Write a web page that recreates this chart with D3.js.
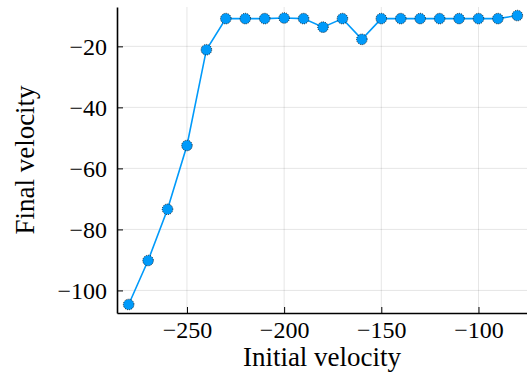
<!DOCTYPE html>
<html>
<head>
<meta charset="utf-8">
<script src="https://cdn.jsdelivr.net/npm/d3@7"></script>
</head>
<body style="margin:0; background:#fff">
<svg id="chart" width="527" height="378"></svg>
<script>
const initialVelocity = [-280, -270, -260, -250, -240, -230, -220, -210, -200, -190, -180,
  -170, -160, -150, -140, -130, -120, -110, -100, -90, -80];
const finalVelocity = [-104.6, -90.2, -73.4, -52.5, -21.1, -10.9, -10.9, -10.9, -10.7, -10.9, -13.7,
  -10.9, -17.7, -10.9, -10.9, -10.9, -10.9, -10.9, -10.9, -10.9, -9.9];
const xTicks = [-250, -200, -150, -100];
const yTicks = [-100, -80, -60, -40, -20];

const data = initialVelocity.map((x, i) => ({ x, y: finalVelocity[i] }));

const svg = d3.select('#chart');
const width = +svg.attr('width');
const height = +svg.attr('height');
const margin = { top: 7, right: 0, bottom: 65, left: 117 };

const fmt = d => (d < 0 ? '\u2212' : '') + Math.abs(d);
const serif = 'Liberation Serif';

const xScale = d3.scaleLinear()
    .domain([-286, -74])
    .range([margin.left, width - margin.right + 2]);

const yScale = d3.scaleLinear()
    .domain([-107.4, -7.1])
    .range([height - margin.bottom, margin.top]);

const x0 = margin.left, x1 = width;
const y0 = height - margin.bottom, y1 = margin.top;

// grid
svg.append('g')
    .selectAll('line')
    .data(xTicks)
    .join('line')
    .attr('x1', d => xScale(d)).attr('x2', d => xScale(d))
    .attr('y1', y0).attr('y2', y1)
    .attr('stroke', '#000').attr('stroke-opacity', 0.1).attr('stroke-width', 1);

svg.append('g')
    .selectAll('line')
    .data(yTicks)
    .join('line')
    .attr('x1', x0).attr('x2', x1)
    .attr('y1', d => yScale(d)).attr('y2', d => yScale(d))
    .attr('stroke', '#000').attr('stroke-opacity', 0.1).attr('stroke-width', 1);

// axes (ticks point inward)
const xAxis = d3.axisBottom(xScale).tickValues(xTicks).tickFormat(fmt).tickSizeInner(-6).tickSizeOuter(0).tickPadding(8);
const yAxis = d3.axisLeft(yScale).tickValues(yTicks).tickFormat(fmt).tickSizeInner(-6).tickSizeOuter(0).tickPadding(10);

const gx = svg.append('g')
    .attr('transform', `translate(0,${y0})`)
    .call(xAxis)
    .attr('font-family', serif)
    .attr('font-size', 24);
gx.select('.domain').attr('stroke-width', 1.6);
gx.selectAll('.tick text')
    .attr('fill', '#000')
    .attr('font-family', serif);

const gy = svg.append('g')
    .attr('transform', `translate(${x0},0)`)
    .call(yAxis)
    .attr('font-family', serif)
    .attr('font-size', 24);
gy.select('.domain').attr('stroke-width', 1.6);
gy.selectAll('.tick text')
    .attr('fill', '#000')
    .attr('font-family', serif);

// labels
svg.append('text')
    .attr('x', (x0 + x1) / 2)
    .attr('y', 366)
    .attr('text-anchor', 'middle')
    .attr('font-family', serif)
    .attr('font-size', 27)
    .text('Initial velocity');

svg.append('text')
    .attr('transform', `translate(34,${(y0 + y1) / 2}) rotate(-90)`)
    .attr('text-anchor', 'middle')
    .attr('font-family', serif)
    .attr('font-size', 27)
    .text('Final velocity');

// series
const line = d3.line().x(d => xScale(d.x)).y(d => yScale(d.y));

svg.append('path')
    .datum(data)
    .attr('fill', 'none')
    .attr('stroke', '#009AFA')
    .attr('stroke-width', 1.6)
    .attr('d', line);

svg.append('g')
    .selectAll('circle')
    .data(data)
    .join('circle')
    .attr('cx', d => xScale(d.x))
    .attr('cy', d => yScale(d.y))
    .attr('r', 5.3)
    .attr('fill', '#009AFA')
    .attr('stroke', '#000')
    .attr('stroke-width', 0.8)
    .attr('stroke-dasharray', '1,1.2');
</script>
</body>
</html>
